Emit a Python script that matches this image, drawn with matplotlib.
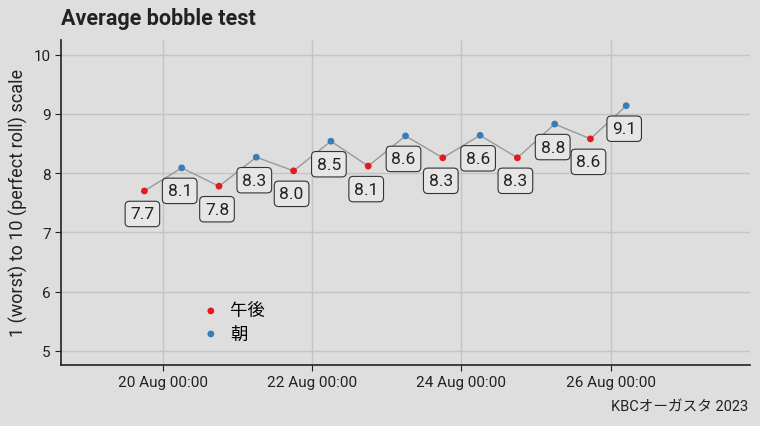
import matplotlib.pyplot as plt
import matplotlib.dates as mdates
import numpy as np
import pandas as pd

plt.rcParams['font.family'] = ['Roboto', 'Noto Sans CJK JP', 'DejaVu Sans']

# measurement times and scores (afternoon / morning alternating)
times = pd.to_datetime([
    "2023-08-19 18:00", "2023-08-20 06:00", "2023-08-20 18:00", "2023-08-21 06:00",
    "2023-08-21 18:00", "2023-08-22 06:00", "2023-08-22 18:00", "2023-08-23 06:00",
    "2023-08-23 18:00", "2023-08-24 06:00", "2023-08-24 18:00", "2023-08-25 06:00",
    "2023-08-25 17:30", "2023-08-26 05:00",
])
scores = [7.70, 8.09, 7.78, 8.27, 8.04, 8.54, 8.12, 8.63, 8.26, 8.64, 8.26, 8.83, 8.58, 9.14]
session = ["午後", "朝"] * 7
colors = {"午後": "#e41a1c", "朝": "#377eb8"}

bg = "#dedede"
fig = plt.figure(figsize=(7.6, 4.27), dpi=100, facecolor=bg)
ax = fig.add_axes([61/760, 1-366/427, (750-61)/760, (366-41)/427], facecolor=bg)

ax.plot(times, scores, color="#999999", lw=1, zorder=2)
for s in ["午後", "朝"]:
    idx = [i for i, v in enumerate(session) if v == s]
    ax.scatter(times[idx], [scores[i] for i in idx], s=24, color=colors[s],
               label=s, zorder=3, edgecolors="none")

for t, v in zip(times, scores):
    ax.annotate(f"{v:.1f}", (t, v), xytext=(-2, -23), textcoords="offset pixels",
                ha="center", va="center", fontsize=12.5, color="#222222",
                bbox=dict(boxstyle="round,pad=0.3,rounding_size=0.25",
                          fc="#e6e6e6", ec="#333333", lw=0.8), zorder=4)

ax.set_ylim(4.76, 10.25)
ax.set_xlim(pd.Timestamp("2023-08-18 15:10"), pd.Timestamp("2023-08-27 20:50"))
ax.set_yticks([5, 6, 7, 8, 9, 10])
ax.xaxis.set_major_locator(mdates.DayLocator(bymonthday=[20, 22, 24, 26]))
ax.xaxis.set_major_formatter(mdates.DateFormatter("%d %b %H:%M"))

ax.grid(True, color="#c4c4c4", lw=1)
ax.set_axisbelow(True)
for sp in ["top", "right"]:
    ax.spines[sp].set_visible(False)
for sp in ["left", "bottom"]:
    ax.spines[sp].set_linewidth(1.2)
    ax.spines[sp].set_color("#222222")
ax.tick_params(labelsize=11, colors="#222222", length=4)

ax.set_ylabel("1 (worst) to 10 (perfect roll) scale", fontsize=13, color="#222222")
fig.text(61/760, 1-19/427, "Average bobble test", fontsize=15.5, fontweight="bold",
         color="#222222", va="center")
fig.text(748/760, 1-408/427, "KBCオーガスタ 2023", fontsize=10.5, ha="right",
         va="center", color="#222222")

ax.legend(loc="center left", bbox_to_anchor=(190/760, 1-323/427),
          bbox_transform=fig.transFigure, frameon=False, fontsize=12.5,
          handletextpad=0.6, labelspacing=0.4, markerscale=1.0,
          handlelength=1.0, borderpad=0.2)

fig.savefig("out.png", dpi=100, facecolor=bg)
